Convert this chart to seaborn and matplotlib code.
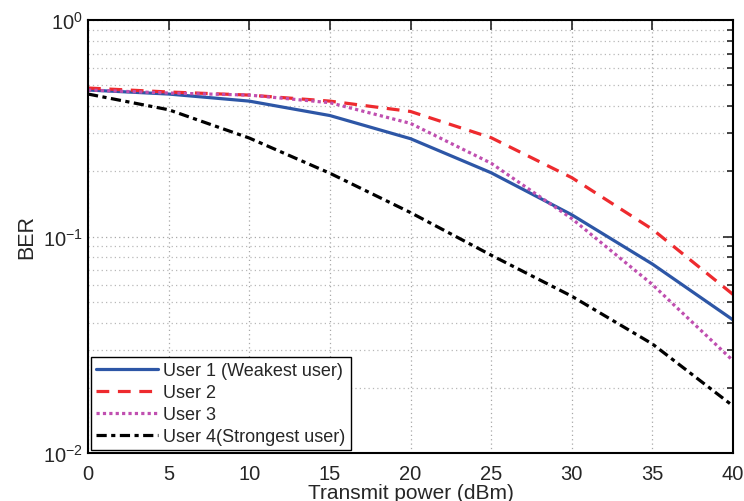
import matplotlib
matplotlib.use("Agg")
import matplotlib.pyplot as plt
import seaborn as sns
import pandas as pd
import numpy as np
from matplotlib.ticker import LogLocator, FixedLocator, NullFormatter

# Transmit power sweep (dBm) and BER for each user
power_dbm = [0, 5, 10, 15, 20, 25, 30, 35, 40]
ber_user1 = [0.475, 0.455, 0.422, 0.362, 0.283, 0.197, 0.126, 0.0746, 0.0412]
ber_user2 = [0.485, 0.465, 0.450, 0.422, 0.378, 0.286, 0.187, 0.108, 0.054]
ber_user3 = [0.475, 0.460, 0.450, 0.415, 0.333, 0.218, 0.121, 0.060, 0.0267]
ber_user4 = [0.455, 0.385, 0.285, 0.196, 0.129, 0.082, 0.053, 0.0319, 0.0165]

labels = ["User 1 (Weakest user)", "User 2", "User 3", "User 4(Strongest user)"]
colors = ["#2d56a6", "#ee2a2e", "#c04fb0", "#000000"]
dash_styles = ["", (4, 2.7), (1, 1), (3.2, 1.4, 1.3, 1.4)]

frames = []
for lab, vals in zip(labels, [ber_user1, ber_user2, ber_user3, ber_user4]):
    frames.append(pd.DataFrame({"power": power_dbm, "ber": vals, "user": lab}))
df = pd.concat(frames, ignore_index=True)

sns.set_style("white")
plt.rcParams["font.family"] = ["Liberation Sans", "DejaVu Sans"]
plt.rcParams["mathtext.fontset"] = "custom"
plt.rcParams["mathtext.rm"] = "Liberation Sans"

fig = plt.figure(figsize=(7.44, 5.02), dpi=100)
ax = fig.add_axes([88 / 744, 1 - 454 / 502, (733 - 88) / 744, (454 - 21) / 502])

sns.lineplot(
    data=df, x="power", y="ber", hue="user", style="user",
    palette=dict(zip(labels, colors)), dashes=dict(zip(labels, dash_styles)),
    hue_order=labels, style_order=labels, linewidth=2.3, ax=ax,
)

ax.set_yscale("log")
ax.set_xlim(0, 40)
ax.set_ylim(1e-2, 1)
ax.xaxis.set_major_locator(FixedLocator(power_dbm))
ax.yaxis.set_minor_locator(LogLocator(base=10, subs=np.arange(2, 10), numticks=20))
ax.yaxis.set_minor_formatter(NullFormatter())
ax.set_yticks([1e-2, 1e-1, 1])
ax.set_yticklabels([r"$10^{-2}$", r"$10^{-1}$", r"$10^{0}$"])

ax.grid(True, which="major", color="#a8a8a8", linestyle=(0, (1, 2.5)), linewidth=0.9)
ax.grid(True, which="minor", axis="y", color="#b8b8b8", linestyle=(0, (1, 2.5)), linewidth=0.9)

ax.tick_params(which="both", direction="in", top=True, right=True, labelsize=14.5, width=1.2)
ax.tick_params(which="major", length=7)
ax.tick_params(which="minor", length=4)
ax.tick_params(axis="x", pad=8)
for sp in ax.spines.values():
    sp.set_color("black")
    sp.set_linewidth(1.5)

ax.set_xlabel("Transmit power (dBm)", fontsize=15, labelpad=0)
ax.set_ylabel("BER", fontsize=15.5, labelpad=4)

leg = ax.legend(loc="lower left", fontsize=13, frameon=True, fancybox=False,
                borderpad=0.3, labelspacing=0.27, handlelength=3.4, handletextpad=0.3,
                borderaxespad=0.15)
leg.get_frame().set_edgecolor("black")
leg.get_frame().set_linewidth(1.0)
leg.get_frame().set_alpha(1)

fig.savefig("out.png", dpi=100)
